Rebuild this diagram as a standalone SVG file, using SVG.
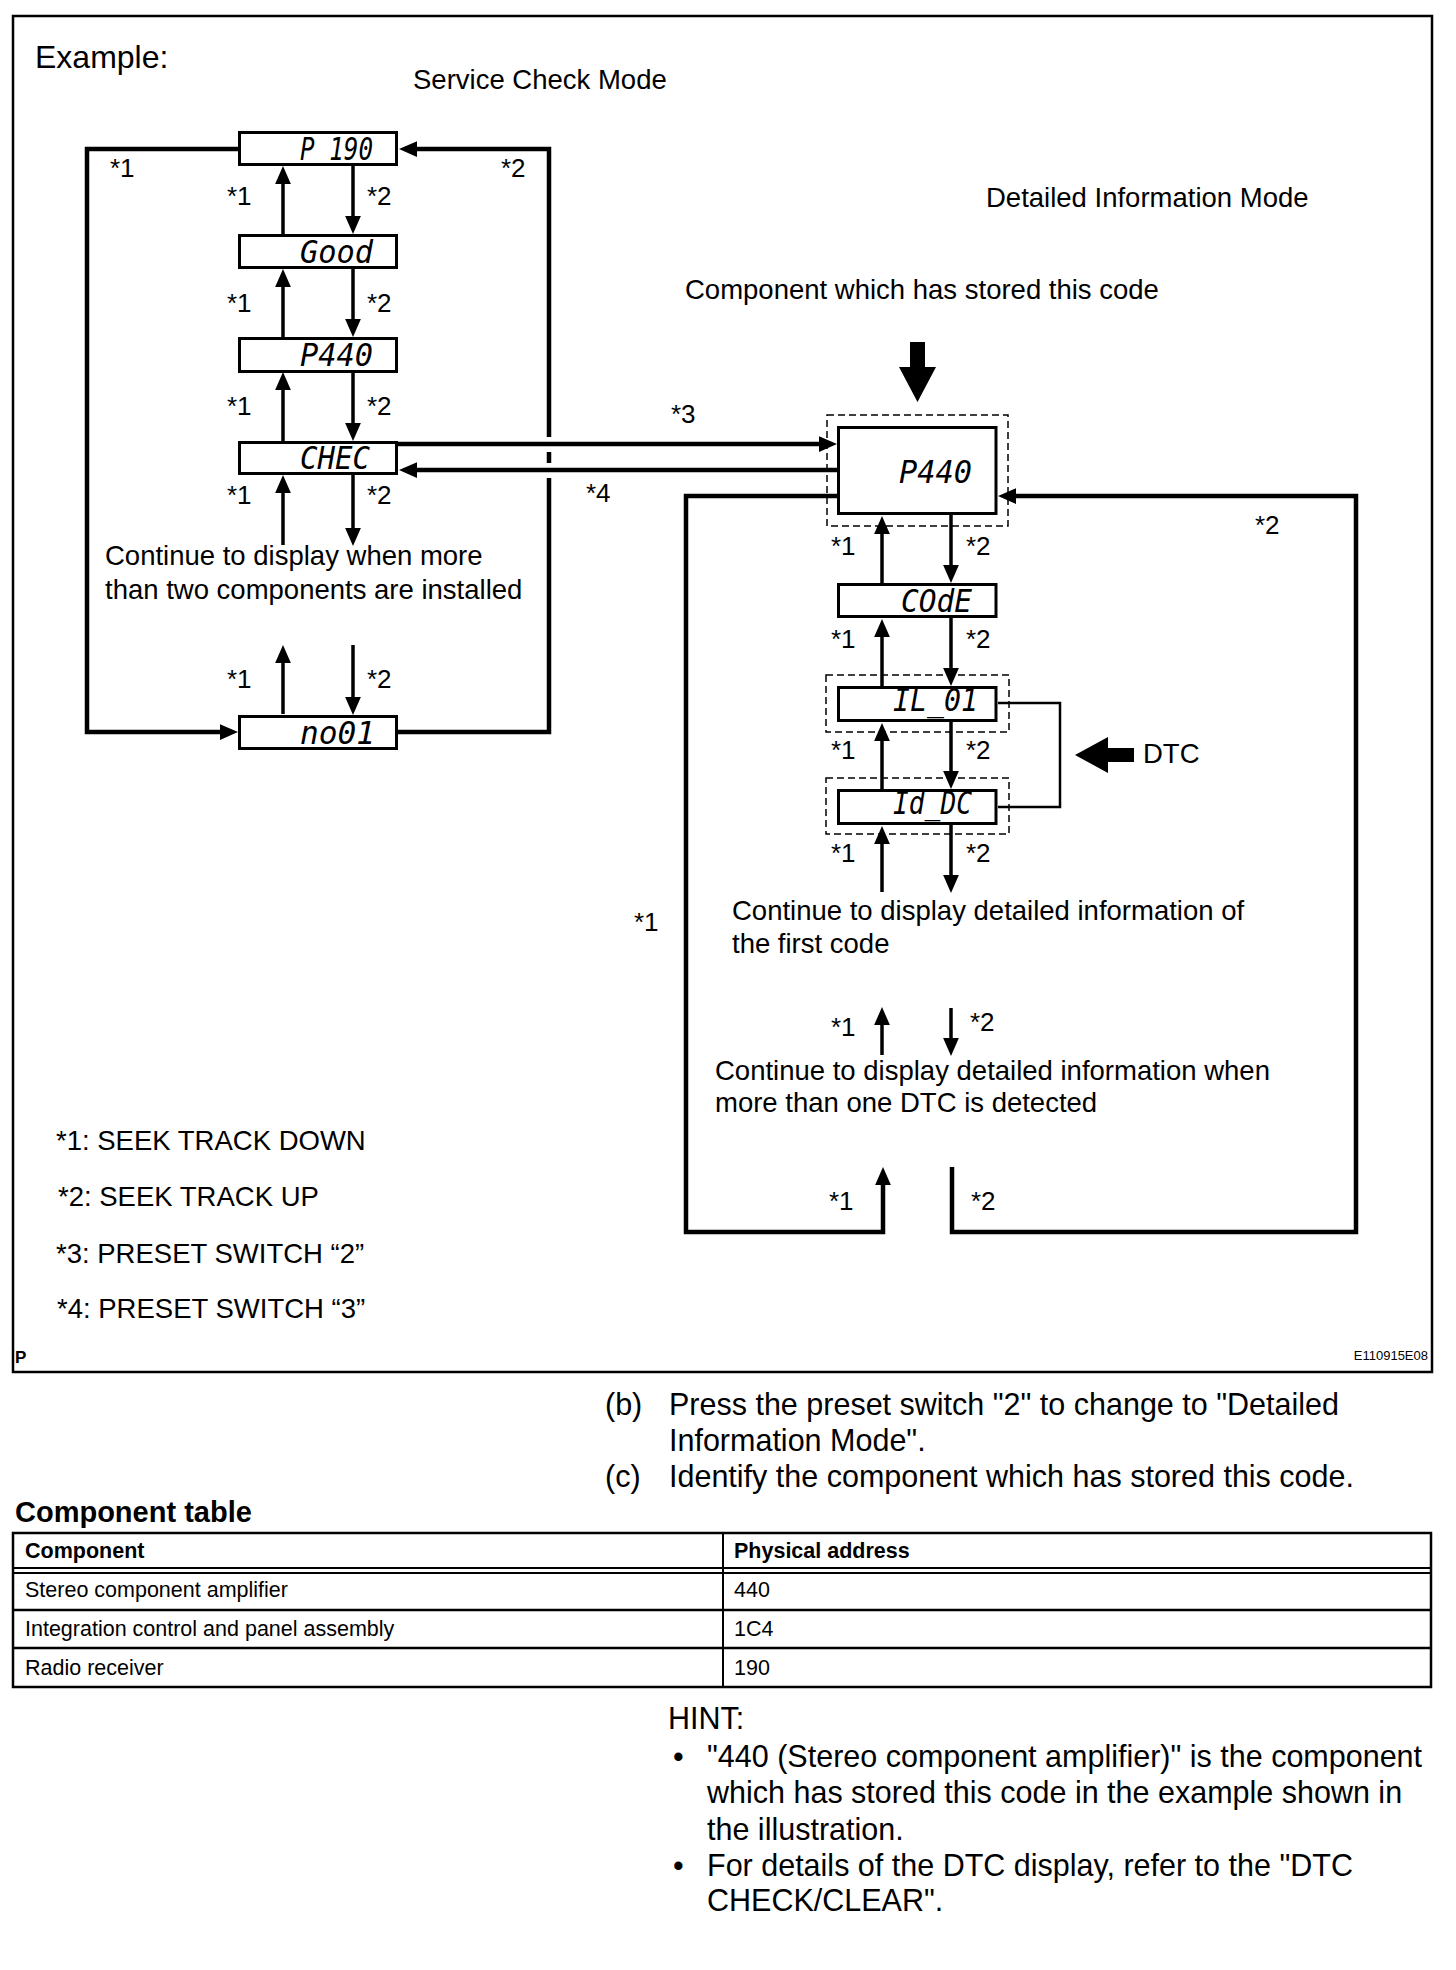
<svg xmlns="http://www.w3.org/2000/svg" width="1456" height="1970" viewBox="0 0 1456 1970">
<style>
text{font-family:"Liberation Sans",Arial,sans-serif;fill:#000}
.lb{font-size:27.5px}
.st{font-size:26px}
.big{font-size:30.5px}
.lcd{font-family:"DejaVu Sans Mono","Liberation Mono",monospace;font-size:32px;font-style:oblique}
.box{fill:#fff;stroke:#000;stroke-width:3}
.dash{fill:none;stroke:#000;stroke-width:1.5;stroke-dasharray:7,4}
.ar{fill:none;stroke:#000;stroke-width:3.5;marker-end:url(#ah)}
.loop{fill:none;stroke:#000;stroke-width:4.5}
.tb{fill:none;stroke:#000}
</style>
<defs>
<marker id="ah" markerUnits="userSpaceOnUse" markerWidth="18" markerHeight="16" viewBox="0 0 16 14" refX="8" refY="7" orient="auto">
<path d="M0,0 L16,7 L0,14 z" fill="#000"/>
</marker>
</defs>
<rect x="0" y="0" width="1456" height="1970" fill="#fff"/>
<rect x="13" y="16" width="1419" height="1356" fill="none" stroke="#000" stroke-width="2.5"/>

<text x="35" y="68" style="font-size:32px">Example:</text>
<text class="lb" x="413" y="89">Service Check Mode</text>
<text class="lb" x="986" y="207">Detailed Information Mode</text>
<text class="lb" x="685" y="299">Component which has stored this code</text>

<g id="connectors">
<path class="loop" d="M238,149 H87 V732 H229" marker-end="url(#ah)"/>
<path class="loop" d="M398,732 H549 V478 M549,463 V452 M549,437 V149 H408" marker-end="url(#ah)"/>
<path class="ar" d="M283,234 V175"/>
<path class="ar" d="M353,166 V225"/>
<path class="ar" d="M283,337 V278"/>
<path class="ar" d="M353,269 V328"/>
<path class="ar" d="M283,441 V381"/>
<path class="ar" d="M353,372 V432"/>
<path class="ar" d="M283,545 V484"/>
<path class="ar" d="M353,475 V537"/>
<path class="ar" d="M283,714 V654"/>
<path class="ar" d="M353,645 V706"/>
<path class="loop" d="M398,444 H828" marker-end="url(#ah)"/>
<path class="loop" d="M837,470 H408" marker-end="url(#ah)"/>
<path class="loop" d="M837,496 H686 V1232 H883 V1176" marker-end="url(#ah)"/>
<path class="loop" d="M952,1167 V1232 H1356 V496 H1007" marker-end="url(#ah)"/>
<path class="ar" d="M882,583 V525"/>
<path class="ar" d="M951,515 V574"/>
<path class="ar" d="M882,686 V628"/>
<path class="ar" d="M951,618 V677"/>
<path class="ar" d="M882,789 V732"/>
<path class="ar" d="M951,722 V780"/>
<path class="ar" d="M882,892 V835"/>
<path class="ar" d="M951,825 V884"/>
<path class="ar" d="M882,1055 V1016"/>
<path class="ar" d="M951,1008 V1047"/>
<path d="M998,703 H1060 V807 H998" fill="none" stroke="#000" stroke-width="2.5"/>
<polygon points="910,342 925,342 925,367 936,367 917.5,402 899,367 910,367" fill="#000"/>
<polygon points="1075,755 1108,737 1108,748 1134,748 1134,762 1108,762 1108,773" fill="#000"/>
</g>

<g id="node-p190"><rect class="box" x="239.5" y="132.5" width="157" height="32"/><text class="lcd" x="300" y="160" textLength="73" lengthAdjust="spacingAndGlyphs">P 190</text></g>
<g id="node-good"><rect class="box" x="239.5" y="235.5" width="157" height="32"/><text class="lcd" x="300" y="263" textLength="73" lengthAdjust="spacingAndGlyphs">Good</text></g>
<g id="node-p440a"><rect class="box" x="239.5" y="338.5" width="157" height="33"/><text class="lcd" x="300" y="366" textLength="73" lengthAdjust="spacingAndGlyphs">P440</text></g>
<g id="node-chec"><rect class="box" x="239.5" y="442.5" width="157" height="31"/><text class="lcd" x="300" y="469" textLength="70" lengthAdjust="spacingAndGlyphs">CHEC</text></g>
<g id="node-no01"><rect class="box" x="239.5" y="716.5" width="157" height="32"/><text class="lcd" x="300" y="744" textLength="75" lengthAdjust="spacingAndGlyphs">no01</text></g>

<g id="node-p440b"><rect class="dash" x="827" y="415" width="181" height="111"/><rect class="box" x="838.5" y="427.5" width="157.5" height="86"/><text class="lcd" x="899" y="483" textLength="73" lengthAdjust="spacingAndGlyphs">P440</text></g>
<g id="node-code"><rect class="box" x="838.5" y="584.5" width="157.5" height="32"/><text class="lcd" x="901" y="612" textLength="71" lengthAdjust="spacingAndGlyphs">COdE</text></g>
<g id="node-il01"><rect class="dash" x="826" y="675" width="183" height="57"/><rect class="box" x="838.5" y="687.5" width="157.5" height="33"/><text class="lcd" x="893" y="711" textLength="85" lengthAdjust="spacingAndGlyphs">IL_01</text></g>
<g id="node-iddc"><rect class="dash" x="826" y="778" width="183" height="56"/><rect class="box" x="838.5" y="790.5" width="157.5" height="33"/><text class="lcd" x="893" y="814" textLength="79" lengthAdjust="spacingAndGlyphs">Id_DC</text></g>

<g id="labels">
<text class="st" x="110" y="177">*1</text>
<text class="st" x="501" y="177">*2</text>
<text class="st" x="227" y="205">*1</text><text class="st" x="367" y="205">*2</text>
<text class="st" x="227" y="312">*1</text><text class="st" x="367" y="312">*2</text>
<text class="st" x="227" y="415">*1</text><text class="st" x="367" y="415">*2</text>
<text class="st" x="227" y="504">*1</text><text class="st" x="367" y="504">*2</text>
<text class="st" x="227" y="688">*1</text><text class="st" x="367" y="688">*2</text>
<text class="lb" x="105" y="565">Continue to display when more</text>
<text class="lb" x="105" y="599">than two components are installed</text>
<text class="st" x="671" y="423">*3</text>
<text class="st" x="586" y="502">*4</text>
<text class="st" x="1255" y="534">*2</text>
<text class="st" x="831" y="555">*1</text><text class="st" x="966" y="555">*2</text>
<text class="st" x="831" y="648">*1</text><text class="st" x="966" y="648">*2</text>
<text class="st" x="831" y="759">*1</text><text class="st" x="966" y="759">*2</text>
<text class="st" x="831" y="862">*1</text><text class="st" x="966" y="862">*2</text>
<text class="lb" x="1143" y="763">DTC</text>
<text class="st" x="634" y="931">*1</text>
<text class="lb" x="732" y="920">Continue to display detailed information of</text>
<text class="lb" x="732" y="953">the first code</text>
<text class="st" x="831" y="1036">*1</text><text class="st" x="970" y="1031">*2</text>
<text class="lb" x="715" y="1080">Continue to display detailed information when</text>
<text class="lb" x="715" y="1112">more than one DTC is detected</text>
<text class="st" x="829" y="1210">*1</text><text class="st" x="971" y="1210">*2</text>
<text class="lb" x="56" y="1150">*1: SEEK TRACK DOWN</text>
<text class="lb" x="58" y="1206">*2: SEEK TRACK UP</text>
<text class="lb" x="56" y="1263">*3: PRESET SWITCH “2”</text>
<text class="lb" x="57" y="1318">*4: PRESET SWITCH “3”</text>
<text x="15" y="1363" style="font-size:17px;font-weight:bold">P</text>
<text x="1428" y="1360" style="font-size:13px" text-anchor="end">E110915E08</text>
</g>

<g id="body-text">
<text class="big" x="605" y="1415">(b)</text>
<text class="big" x="669" y="1415">Press the preset switch "2" to change to "Detailed</text>
<text class="big" x="669" y="1451">Information Mode".</text>
<text class="big" x="605" y="1487">(c)</text>
<text class="big" x="669" y="1487">Identify the component which has stored this code.</text>
<text x="15" y="1522" style="font-size:29px;font-weight:bold">Component table</text>
</g>

<g id="table">
<rect class="tb" x="13" y="1533" width="1418" height="154" stroke-width="2.5"/>
<line class="tb" x1="13" y1="1568" x2="1431" y2="1568" stroke-width="2.2"/>
<line class="tb" x1="13" y1="1573" x2="1431" y2="1573" stroke-width="2.2"/>
<line class="tb" x1="13" y1="1610" x2="1431" y2="1610" stroke-width="2.5"/>
<line class="tb" x1="13" y1="1648" x2="1431" y2="1648" stroke-width="2.5"/>
<line class="tb" x1="723" y1="1533" x2="723" y2="1687" stroke-width="2"/>
<text x="25" y="1558" style="font-size:21.5px;font-weight:bold">Component</text>
<text x="734" y="1558" style="font-size:21.5px;font-weight:bold">Physical address</text>
<text x="25" y="1597" style="font-size:21.5px">Stereo component amplifier</text>
<text x="734" y="1597" style="font-size:21.5px">440</text>
<text x="25" y="1636" style="font-size:21.5px">Integration control and panel assembly</text>
<text x="734" y="1636" style="font-size:21.5px">1C4</text>
<text x="25" y="1675" style="font-size:21.5px">Radio receiver</text>
<text x="734" y="1675" style="font-size:21.5px">190</text>
</g>

<g id="hint">
<text class="big" x="668" y="1729">HINT:</text>
<text class="big" x="673" y="1767">•</text>
<text class="big" x="707" y="1767">"440 (Stereo component amplifier)" is the component</text>
<text class="big" x="707" y="1803">which has stored this code in the example shown in</text>
<text class="big" x="707" y="1840">the illustration.</text>
<text class="big" x="673" y="1876">•</text>
<text class="big" x="707" y="1876">For details of the DTC display, refer to the "DTC</text>
<text class="big" x="707" y="1911">CHECK/CLEAR".</text>
</g>
</svg>
